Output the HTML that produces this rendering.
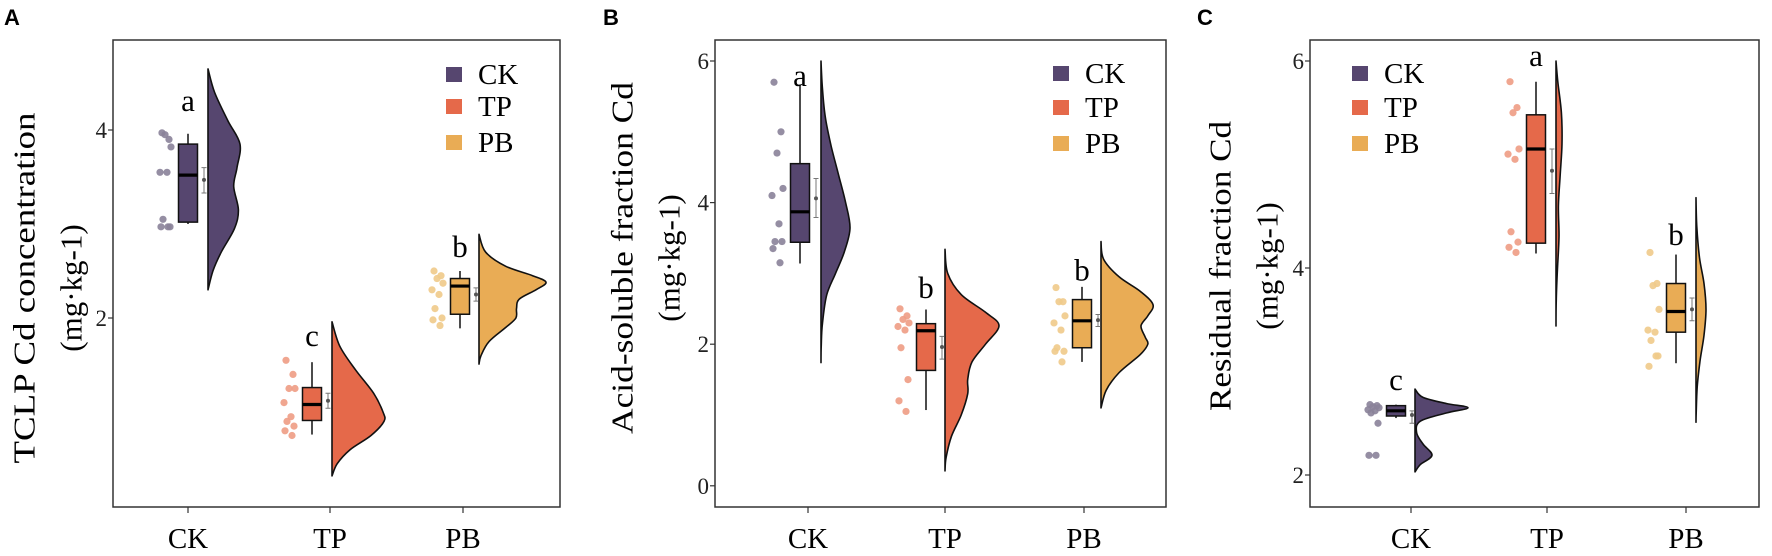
<!DOCTYPE html>
<html><head><meta charset="utf-8">
<style>
html,body{margin:0;padding:0;background:#fff;}
svg{display:block;}
</style></head>
<body>
<svg id="fig" width="1772" height="556" viewBox="0 0 1772 556" xmlns="http://www.w3.org/2000/svg" font-family="'Liberation Serif', serif"></svg>
<script>
// ---- data ----
const categories = ["CK", "TP", "PB"];
const groupColors = ["#56466f", "#e5694a", "#e9ac55"];
const pointColors = ["#8a8299", "#ee9c84", "#f0ca8a"];
const sigLetters = [["a","c","b"],["a","b","b"],["c","a","b"]];
const letterY = [[4.2, 1.7, 2.65],[5.65, 2.65, 2.9],[2.82, 5.95, 4.22]];

// box stats: [lowerWhisker, Q1, median, Q3, upperWhisker]
const boxA = [[3.0,3.02,3.52,3.85,3.96],[0.76,0.91,1.08,1.26,1.53],[1.89,2.04,2.34,2.42,2.5]];
const boxB = [[3.14,3.44,3.87,4.55,5.66],[1.07,1.63,2.19,2.29,2.49],[1.75,1.95,2.33,2.63,2.81]];
const boxC = [[2.55,2.57,2.62,2.67,2.68],[4.14,4.24,5.15,5.48,5.8],[3.08,3.38,3.58,3.85,4.13]];
// mean, lower err, upper err
const meanA = [[3.47,3.33,3.6],[1.12,1.04,1.2],[2.25,2.18,2.32]];
const meanB = [[4.06,3.79,4.34],[1.96,1.79,2.11],[2.34,2.25,2.42]];
const meanC = [[2.58,2.5,2.62],[4.94,4.72,5.15],[3.6,3.49,3.71]];
// raw points
const ptsA = [[3.97,3.9,3.95,3.82,3.55,3.55,3.05,2.97,2.97,2.97],[1.55,1.4,1.25,1.25,1.1,0.95,0.9,0.85,0.8,0.75],[2.5,2.45,2.42,2.37,2.3,2.25,2.1,2.0,1.98,1.92]];
const ptsB = [[5.7,5.0,4.7,4.2,4.1,3.7,3.45,3.45,3.35,3.15],[2.5,2.4,2.35,2.3,2.25,2.2,1.95,1.5,1.2,1.05],[2.8,2.6,2.6,2.4,2.3,2.2,1.95,1.9,1.9,1.75]];
const ptsC = [[2.68,2.67,2.66,2.65,2.63,2.62,2.6,2.5,2.19,2.19],[5.8,5.55,5.5,5.15,5.1,5.05,4.35,4.25,4.2,4.15],[4.15,3.85,3.83,3.6,3.4,3.38,3.3,3.15,3.05,3.15]];
// half-violin densities (value grid, relative density)
const violinYsA = [[4.65,4.4,4.1,3.85,3.6,3.4,3.15,2.95,2.7,2.5,2.3],[1.96,1.7,1.45,1.2,1.0,0.9,0.75,0.6,0.45,0.32],[2.89,2.7,2.55,2.45,2.38,2.3,2.2,2.1,2.0,1.9,1.75,1.6,1.51]];
const violinDA = [[0,0.2,0.6,0.97,0.88,0.78,0.92,0.8,0.4,0.15,0],[0,0.15,0.45,0.8,0.98,1.0,0.75,0.35,0.1,0],[0,0.1,0.4,0.8,1.0,0.85,0.6,0.56,0.55,0.4,0.15,0.03,0]];
const violinYsB = [[6.0,5.6,5.2,4.8,4.4,4.0,3.64,3.3,3.0,2.7,2.3,2.0,1.74],[3.34,3.0,2.7,2.45,2.26,2.0,1.75,1.5,1.3,1.0,0.7,0.4,0.21],[3.45,3.2,2.95,2.75,2.56,2.4,2.26,2.1,2.0,1.85,1.6,1.35,1.1]];
const violinDB = [[0,0.05,0.15,0.35,0.6,0.85,1.0,0.8,0.5,0.2,0.05,0.01,0],[0,0.05,0.3,0.75,1.0,0.75,0.5,0.42,0.42,0.3,0.12,0.02,0],[0,0.05,0.35,0.75,1.0,0.9,0.77,0.85,0.9,0.75,0.35,0.1,0]];
const violinYsC = [[2.83,2.75,2.69,2.65,2.6,2.52,2.41,2.3,2.19,2.1,2.03],[6.0,5.8,5.5,5.2,4.9,4.6,4.3,4.0,3.7,3.44],[4.68,4.4,4.1,3.85,3.6,3.35,3.1,2.85,2.6,2.51]];
const violinDC = [[0,0.15,0.6,1.0,0.6,0.1,0.03,0.15,0.32,0.1,0],[0,0.3,0.9,1.0,0.7,0.4,0.5,0.25,0.05,0],[0,0.08,0.35,0.8,1.0,0.8,0.4,0.12,0.02,0]];
const ticksA = [2, 4];
const ticksB = [0, 2, 4, 6];
const ticksC = [2, 4, 6];

// ---- layout ----
const NS = "http://www.w3.org/2000/svg";
const svg = document.getElementById("fig");
function mk(tag, attrs, parent) {
  const e = document.createElementNS(NS, tag);
  for (const k in attrs) e.setAttribute(k, attrs[k]);
  (parent || svg).appendChild(e);
  return e;
}
const jitter = [-4,3,-1,5,-6,1,-3,4,-5,2];

const panels = [
  {id:"a", label:"A", left:113, right:560, top:40, bottom:507, vTop:4, pTop:130, pxPerUnit:94,
   ticks:ticksA, box:boxA, mean:meanA, pts:ptsA, vys:violinYsA, vd:violinDA, vmax:[33,52,67],
   tickX:[188,330,463], boxX:[188,312,460], violX:[208,332,479],
   title:["TCLP Cd concentration","(mg·kg-1)"], tX:[24,71], tY:288, tLen:351,
   legX:446, legY:[67,99,135]},
  {id:"b", label:"B", left:715, right:1166, top:40, bottom:507, vTop:6, pTop:61, pxPerUnit:70.8,
   ticks:ticksB, box:boxB, mean:meanB, pts:ptsB, vys:violinYsB, vd:violinDB, vmax:[29,54,52],
   tickX:[808,945,1084], boxX:[800,926,1082], violX:[821,945,1101],
   title:["Acid-soluble fraction Cd","(mg·kg-1)"], tX:[622,669], tY:258, tLen:352,
   legX:1053, legY:[66,100,136]},
  {id:"c", label:"C", left:1310, right:1759, top:40, bottom:507, vTop:6, pTop:61, pxPerUnit:103.5,
   ticks:ticksC, box:boxC, mean:meanC, pts:ptsC, vys:violinYsC, vd:violinDC, vmax:[53,6,10],
   tickX:[1411,1547,1686], boxX:[1396,1536,1676], violX:[1415,1556,1696],
   title:["Residual fraction Cd","(mg·kg-1)"], tX:[1220,1267], tY:266, tLen:290,
   legX:1352, legY:[66,100,136]}
];

function smoothPath(pts) {
  let d = "M" + pts[0][0] + "," + pts[0][1];
  for (let i = 0; i < pts.length - 1; i++) {
    const p0 = pts[Math.max(i-1,0)], p1 = pts[i], p2 = pts[i+1], p3 = pts[Math.min(i+2,pts.length-1)];
    const c1 = [p1[0] + (p2[0]-p0[0])/6, p1[1] + (p2[1]-p0[1])/6];
    const c2 = [p2[0] - (p3[0]-p1[0])/6, p2[1] - (p3[1]-p1[1])/6];
    d += " C" + c1[0].toFixed(1) + "," + c1[1].toFixed(1) + " " + c2[0].toFixed(1) + "," + c2[1].toFixed(1) + " " + p2[0].toFixed(1) + "," + p2[1].toFixed(1);
  }
  return d;
}

panels.forEach((P, pi) => {
  const y = v => P.pTop + (P.vTop - v) * P.pxPerUnit;
  const g = mk("g", {});
  
  

  const pl = mk("text", {x: [4, 603, 1197][pi], y: 25, "font-family":"'Liberation Sans', sans-serif", "font-weight":"bold", "font-size":"22"}, g);
  pl.textContent = P.label;
  
  

  P.title.forEach((t, i) => {
    const tt = mk("text", {x: P.tX[i], y: P.tY, "font-size": "31", "text-anchor":"middle", "dominant-baseline":"central", transform:"rotate(-90 " + P.tX[i] + " " + P.tY + ")"}, g);
    if (i === 0) { tt.setAttribute("textLength", P.tLen); tt.setAttribute("lengthAdjust", "spacingAndGlyphs"); }
    tt.textContent = t;
    
    
  });

  P.ticks.forEach(v => {
    const ty = y(v);
    const tl = mk("line", {x1: P.left - 5, x2: P.left, y1: ty, y2: ty, stroke: "#333", "stroke-width": 1.2}, g);
    
    
    const tx = mk("text", {x: P.left - 6, y: ty + 8, "font-size": "23", "text-anchor": "end", fill: "#222"}, g);
    tx.textContent = v;
    
    
  });

  categories.forEach((c, i) => {
    const col = groupColors[i];
    const vpts = P.vys[i].map((v, k) => [P.violX[i] + P.vd[i][k] * P.vmax[i], y(v)]);
    let d = smoothPath(vpts) + " L" + P.violX[i] + "," + y(P.vys[i][P.vys[i].length-1]) + " L" + P.violX[i] + "," + y(P.vys[i][0]) + " Z";
    const vp = mk("path", {d: d, fill: col, stroke: "#111", "stroke-width": 1.6, "stroke-linejoin":"round"}, g);
    
    

    P.pts[i].forEach((v, k) => {
      const pt = mk("circle", {cx: P.boxX[i] - 22 + jitter[k], cy: y(v), r: 3.6, fill: pointColors[i], opacity: 0.9}, g);
      
      
    });

    const b = P.box[i], bx = P.boxX[i], bw = 19;
    const wh = mk("line", {x1: bx, x2: bx, y1: y(b[0]), y2: y(b[4]), stroke: "#111", "stroke-width": 1.5}, g);
    
    
    const rc = mk("rect", {x: bx - bw/2, y: y(b[3]), width: bw, height: y(b[1]) - y(b[3]), fill: col, stroke: "#111", "stroke-width": 1.5}, g);
    
    
    const md = mk("line", {x1: bx - bw/2, x2: bx + bw/2, y1: y(b[2]), y2: y(b[2]), stroke: "#000", "stroke-width": 3.2}, g);
    
    

    const m = P.mean[i], mx = bx + 16;
    const el = mk("path", {d: "M"+(mx-2.5)+","+y(m[1])+" H"+(mx+2.5)+" M"+mx+","+y(m[1])+" V"+y(m[2])+" M"+(mx-2.5)+","+y(m[2])+" H"+(mx+2.5), stroke: "#777", "stroke-width": 1, fill: "none"}, g);
    
    
    const mc = mk("circle", {cx: mx, cy: y(m[0]), r: 2, fill: "#555"}, g);
    
    

    const lt = mk("text", {x: bx, y: y(letterY[pi][i]), "font-size": "31", "text-anchor": "middle"}, g);
    lt.textContent = sigLetters[pi][i];
    
    

    const xt = mk("line", {x1: P.tickX[i], x2: P.tickX[i], y1: P.bottom, y2: P.bottom + 6, stroke: "#333", "stroke-width": 1.2}, g);
    
    
    const xl = mk("text", {x: P.tickX[i], y: 548, "font-size": "29", "text-anchor": "middle"}, g);
    xl.textContent = c;
    
    

    const lg = mk("g", {}, g);
    
    
    mk("rect", {x: P.legX, y: P.legY[i], width: 16, height: 15, fill: col}, lg);
    const ltx = mk("text", {x: P.legX + 32, y: P.legY[i] + 17, "font-size": "29"}, lg);
    ltx.textContent = c;
  });

  const fr = mk("rect", {x: P.left, y: P.top, width: P.right - P.left, height: P.bottom - P.top, fill: "none", stroke: "#333", "stroke-width": 1.5}, g);
  
  
});
</script>
</body></html>
